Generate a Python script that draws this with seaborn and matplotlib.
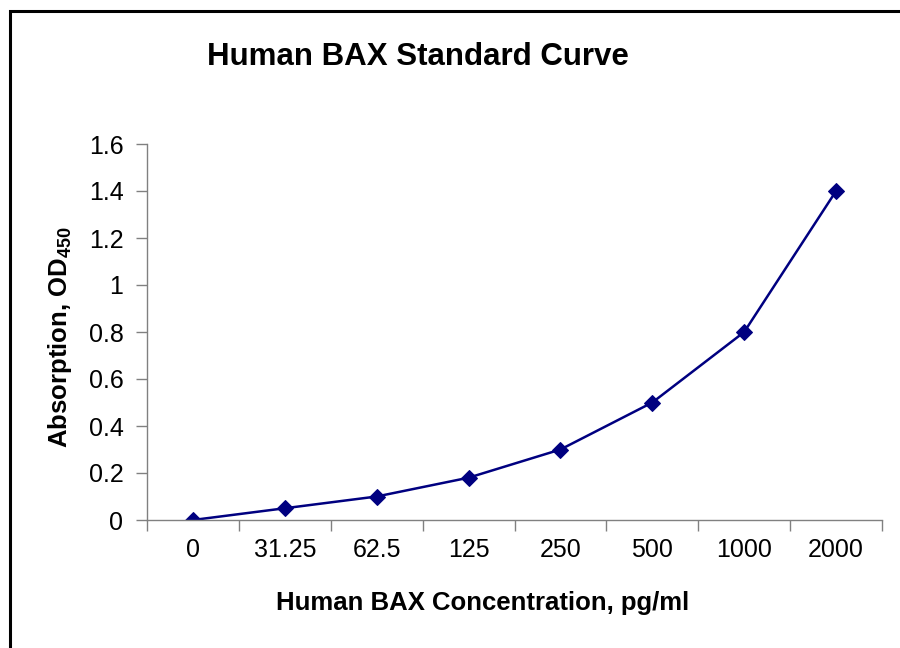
import matplotlib
matplotlib.use("Agg")
import matplotlib.pyplot as plt
import seaborn as sns
import numpy as np
import pandas as pd
from matplotlib.patches import Rectangle
from matplotlib.ticker import FixedLocator

categories = ["0", "31.25", "62.5", "125", "250", "500", "1000", "2000"]
absorbance = [0.0, 0.05, 0.10, 0.18, 0.30, 0.50, 0.80, 1.40]
y_ticks = [0, 0.2, 0.4, 0.6, 0.8, 1.0, 1.2, 1.4, 1.6]
y_tick_labels = ["0", "0.2", "0.4", "0.6", "0.8", "1", "1.2", "1.4", "1.6"]

sns.set_style("white")
plt.rcParams['font.family'] = ['Liberation Sans', 'DejaVu Sans']
plt.rcParams['mathtext.fontset'] = 'custom'
plt.rcParams['mathtext.rm'] = 'Liberation Sans'
plt.rcParams['mathtext.bf'] = 'Liberation Sans:bold'
plt.rcParams['text.color'] = 'black'
plt.rcParams['xtick.color'] = 'black'
plt.rcParams['ytick.color'] = 'black'
plt.rcParams['axes.labelcolor'] = 'black'

df = pd.DataFrame({"pos": np.arange(len(categories)), "od": absorbance})

fig = plt.figure(figsize=(9, 6.48), dpi=100)
ax = fig.add_axes([147/900, 1-520/648, (882-147)/900, (520-144)/648])

sns.lineplot(data=df, x="pos", y="od", ax=ax, color="#000080", linewidth=1.8,
             marker="D", markersize=8, markeredgecolor="#000080", markerfacecolor="#000080")

ax.set_xlim(-0.5, len(categories) - 0.5)
ax.set_ylim(0, 1.6)

# x: tick marks between categories, labels at centers
ax.xaxis.set_major_locator(FixedLocator(np.arange(len(categories) + 1) - 0.5))
ax.set_xticklabels([])
ax.xaxis.set_minor_locator(FixedLocator(np.arange(len(categories))))
ax.set_xticklabels(categories, minor=True)
ax.tick_params(axis="x", which="major", direction="out", length=8, width=1, color="#808080", bottom=True)
ax.tick_params(axis="x", which="minor", length=0, labelsize=18, pad=13, bottom=True, labelcolor="black")

ax.set_yticks(y_ticks)
ax.set_yticklabels(y_tick_labels)
ax.tick_params(axis="y", direction="out", length=8, width=1, color="#808080", labelsize=18, pad=9,
               left=True, labelcolor="black")

for s in ["top", "right"]:
    ax.spines[s].set_visible(False)
for s in ["left", "bottom"]:
    ax.spines[s].set_color("#808080")
    ax.spines[s].set_linewidth(1)

ax.set_xlabel("")
ax.set_ylabel("")

fig.text(418/900, 1-57/648, "Human BAX Standard Curve", ha="center", va="center",
         fontsize=22.5, fontweight="bold", color="black")
fig.text(483/900, 1-603/648, "Human BAX Concentration, pg/ml", ha="center", va="center",
         fontsize=18.5, fontweight="bold", color="black")
fig.text(60/900, 1-337/648, r"Absorption, OD$_\mathbf{450}$", ha="center", va="center",
         fontsize=18.5, fontweight="bold", rotation=90, color="black")

fig.patches.append(Rectangle((9.5/900, -0.05), 1.0, 1-11/648 + 0.05, transform=fig.transFigure,
                             fill=False, edgecolor="black", linewidth=2.2, clip_on=False))

fig.savefig("out.png", dpi=100)
